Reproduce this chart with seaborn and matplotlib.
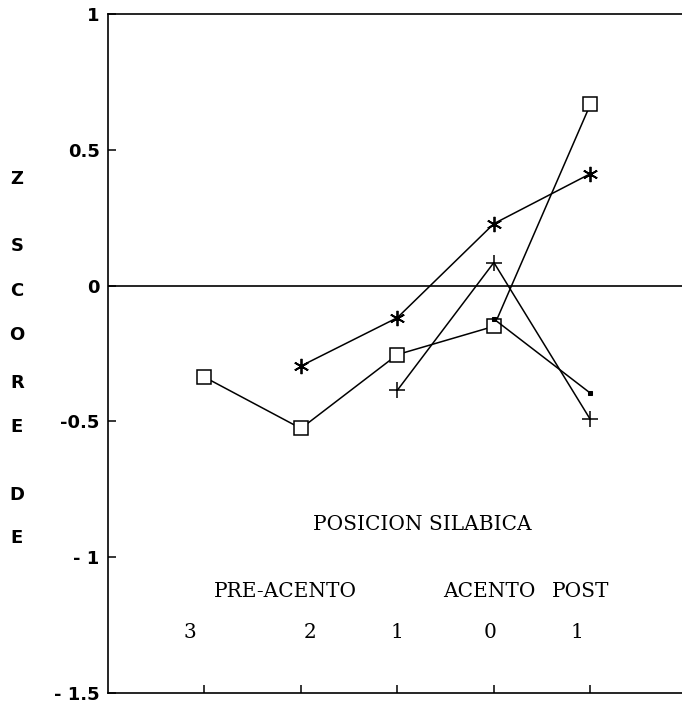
import matplotlib
matplotlib.use("Agg")
import matplotlib.pyplot as plt
import seaborn as sns

# posiciones silabicas (0..4 -> 3, 2, 1, 0, 1)
pos_labels = ["3", "2", "1", "0", "1"]

# series (x, z score)
sq_x = [0, 1, 2, 3, 4]
sq_y = [-0.337, -0.526, -0.254, -0.150, 0.667]

star_x = [1, 2, 3, 4]
star_y = [-0.296, -0.118, 0.228, 0.412]

plus_x = [2, 3, 4]
plus_y = [-0.385, 0.085, -0.493]

dot_x = [3, 4]
dot_y = [-0.123, -0.396]

yticks = [1, 0.5, 0, -0.5, -1, -1.5]
ytick_labels = ["1", "0.5", "0", "-0.5", "- 1", "- 1.5"]
ylabel_letters = ["Z", "S", "C", "O", "R", "E", "D", "E"]
ylabel_pos = [179, 246, 291, 335, 383, 427, 495, 538]

sns.set_style("ticks")
plt.rcParams['font.family'] = ['DejaVu Sans']
plt.rcParams['text.color'] = 'black'
plt.rcParams['xtick.color'] = 'black'
plt.rcParams['ytick.color'] = 'black'
plt.rcParams['axes.edgecolor'] = 'black'

fig = plt.figure(figsize=(6.82, 7.05), dpi=100)
ax = fig.add_axes([108 / 682, 12 / 705, 1 - 108 / 682, 679 / 705])

lw = 1.1
sns.lineplot(x=sq_x, y=sq_y, ax=ax, color="black", lw=lw, marker="s",
             markersize=9.5, markerfacecolor="white", markeredgecolor="black",
             markeredgewidth=1.1)
sns.lineplot(x=star_x, y=star_y, ax=ax, color="black", lw=lw, marker=(6, 2, 0),
             markersize=11, markeredgecolor="black", markeredgewidth=1.3)
sns.lineplot(x=plus_x, y=plus_y, ax=ax, color="black", lw=lw, marker="+",
             markersize=12, markeredgecolor="black", markeredgewidth=1.1)
sns.lineplot(x=dot_x, y=dot_y, ax=ax, color="black", lw=lw, marker="s",
             markersize=3.5, markerfacecolor="black", markeredgecolor="black")

ax.axhline(0, color="black", lw=1.2)

ax.set_xlim(-1, 4.95)
ax.set_ylim(-1.5, 1)
ax.set_xticks(range(5))
ax.set_xticklabels([])
ax.set_yticks(yticks)
ax.set_yticklabels(ytick_labels, fontsize=13, fontweight="bold", color="black")
ax.tick_params(axis="both", direction="in", length=6, width=1.1, color="black")
ax.tick_params(axis="y", pad=6)
ax.set_xlabel("")
ax.set_ylabel("")

ax.spines["right"].set_visible(False)
for s in ["left", "bottom", "top"]:
    ax.spines[s].set_linewidth(1.2)
    ax.spines[s].set_color("black")

serif = dict(family="DejaVu Serif", fontsize=14.5, color="black",
             ha="center", va="center")
ax.text(2.26, -0.879, "POSICION SILABICA", **serif)
ax.text(0.84, -1.125, "PRE-ACENTO", **serif)
ax.text(2.95, -1.125, "ACENTO", **serif)
ax.text(3.90, -1.125, "POST", **serif)
num_x = [-0.15, 1.09, 2.0, 2.96, 3.86]
for xx, lab in zip(num_x, pos_labels):
    ax.text(xx, -1.276, lab, **serif)

for letter, py in zip(ylabel_letters, ylabel_pos):
    fig.text(17 / 682, 1 - py / 705, letter, fontsize=13, fontweight="bold",
             color="black", ha="center", va="center")

fig.savefig("out.png", dpi=100)
